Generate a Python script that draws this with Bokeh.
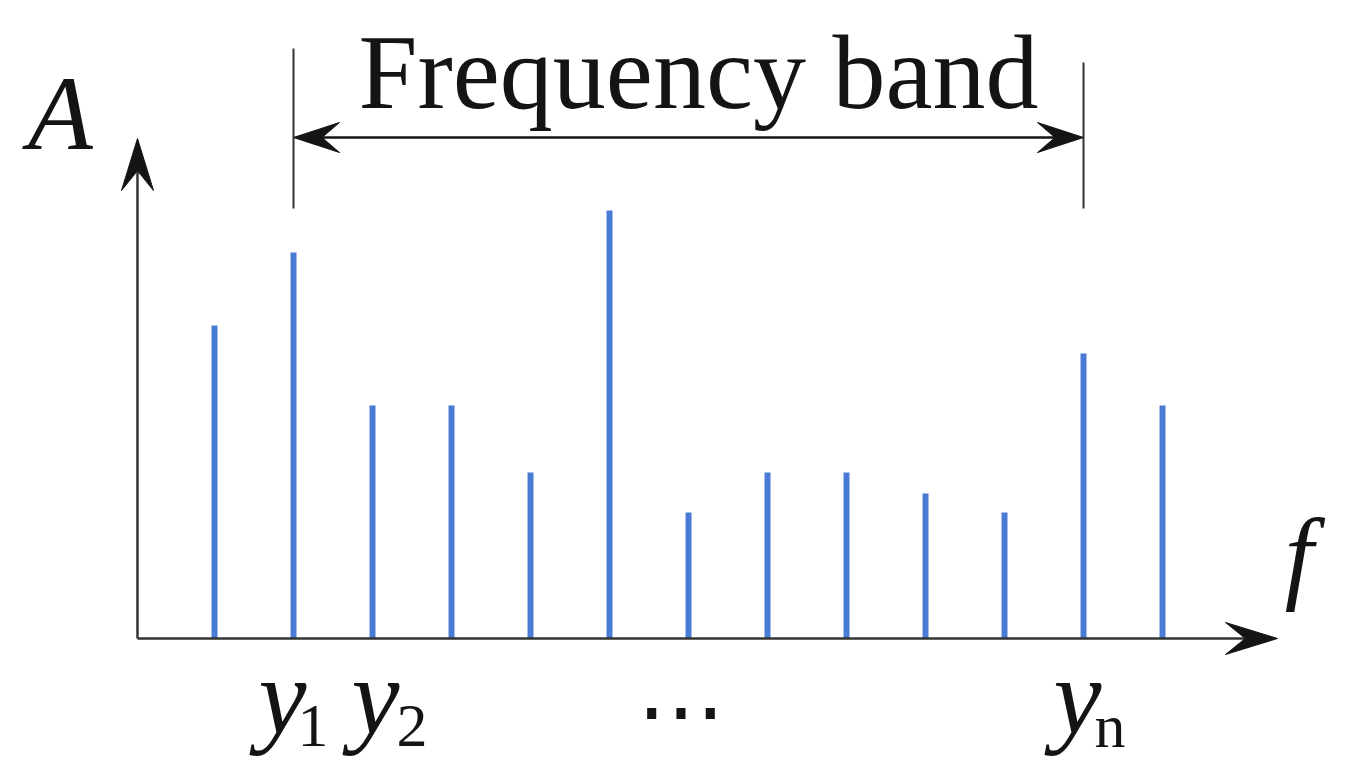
from bokeh.plotting import figure
from bokeh.models import Range1d, ColumnDataSource
from bokeh.core.properties import value
from bokeh.embed import file_html
from bokeh.resources import INLINE

# ---- data ----
freq_index = list(range(1, 14))
amplitude = [3.13, 3.86, 2.33, 2.33, 1.66, 4.28, 1.26, 1.66, 1.66, 1.45, 1.26, 2.85, 2.33]
band_start = 2
band_end = 12
band_title = "Frequency band"
label_bars = [2, 3, 12]
label_main = ["y", "y", "y"]
label_sub = ["1", "2", "n"]
y_axis_label = "A"
x_axis_label = "f"
ellipsis_text = "\u22ef"

# ---- layout ----
W, H = 1354, 761
SX = 79.0    # px per x unit
SY = 100.0   # px per y unit
x0 = -1.709
y0 = -1.23

BAR = "#4a7bd4"
INK = "#141414"
AXIS = "#333333"
SERIF = "Liberation Serif"

p = figure(width=W, height=H, output_backend="svg", toolbar_location=None,
           x_range=Range1d(x0, x0 + W / SX), y_range=Range1d(y0, y0 + H / SY),
           x_axis_location=None, y_axis_location=None, min_border=0,
           background_fill_color="white", border_fill_color="white")
p.grid.visible = False
p.outline_line_color = None

# bars
src = ColumnDataSource(dict(x=freq_index, top=amplitude))
p.vbar(x="x", top="top", bottom=0, width=6 / SX, source=src, fill_color=BAR, line_color=None)


def arrow_head(tx, ty, dx, dy, L, w, k):
    """barbed arrowhead with tip at (tx, ty) pointing in pixel direction (dx, dy)."""
    nx, ny = -dy, dx
    offs = [(0, 0),
            (-L * dx + w / 2 * nx, -L * dy + w / 2 * ny),
            (-k * L * dx, -k * L * dy),
            (-L * dx - w / 2 * nx, -L * dy - w / 2 * ny)]
    xs = [tx + ox / SX for ox, oy in offs]
    ys = [ty + oy / SY for ox, oy in offs]
    return xs, ys


heads_x, heads_y = [], []
# axes
axis_x = 0.025
x_end = 14.456
y_end = 5.0
p.segment(x0=[axis_x, axis_x], y0=[0, 0], x1=[x_end - 30 / SX, axis_x], y1=[0, y_end - 30 / SY],
          line_width=2.5, line_color=AXIS)
for hx, hy in [arrow_head(x_end, 0, 1, 0, 52, 32, 0.62), arrow_head(axis_x, y_end, 0, 1, 52, 32, 0.62)]:
    heads_x.append(hx); heads_y.append(hy)

# frequency band markers
band_y = 5.01
p.segment(x0=[band_start, band_end], y0=[4.30, 4.30], x1=[band_start, band_end], y1=[5.90, 5.76],
          line_width=2, line_color=AXIS)
p.segment(x0=[band_start + 25 / SX], y0=[band_y], x1=[band_end - 25 / SX], y1=[band_y],
          line_width=2.5, line_color=INK)
for hx, hy in [arrow_head(band_start, band_y, -1, 0, 46, 30, 0.62),
               arrow_head(band_end, band_y, 1, 0, 46, 30, 0.62)]:
    heads_x.append(hx); heads_y.append(hy)

p.patches(xs=heads_x, ys=heads_y, fill_color=INK, line_color=INK, line_width=1)

p.text(x=[(band_start + band_end) / 2], y=[5.66], text=[band_title], x_offset=10,
       text_font=value(SERIF), text_font_size="106px", text_align="center",
       text_baseline="alphabetic", text_color=INK)

# axis labels
p.text(x=[-1.36], y=[5.25], text=[y_axis_label], text_font=value(SERIF), text_font_style="italic",
       text_font_size="106px", text_align="left", text_baseline="alphabetic", text_color=INK)
p.text(x=[14.73], y=[0.84], text=[x_axis_label], text_font=value(SERIF), text_font_style="italic",
       text_font_size="103px", text_align="center", text_baseline="alphabetic", text_color=INK)

# labels y1, y2, yn
main_off = [-35, -21, -30]
sub_off = [4, 24, 11]
for xb, m, s, mo, so in zip(label_bars, label_main, label_sub, main_off, sub_off):
    p.text(x=[xb], y=[-0.58], text=[m], x_offset=mo, text_font=value(SERIF), text_font_style="italic",
           text_font_size="108px", text_align="left", text_baseline="alphabetic", text_color=INK)
    p.text(x=[xb], y=[-0.87], text=[s], x_offset=so, text_font=value(SERIF),
           text_font_size="62px", text_align="left", text_baseline="alphabetic", text_color=INK)

p.text(x=[7], y=[-0.72], text=[ellipsis_text], x_offset=-8, text_font=value("DejaVu Serif"),
       text_font_size="88px", text_align="center", text_baseline="middle", text_color=INK)

open("out.html", "w").write(file_html(p, INLINE))
